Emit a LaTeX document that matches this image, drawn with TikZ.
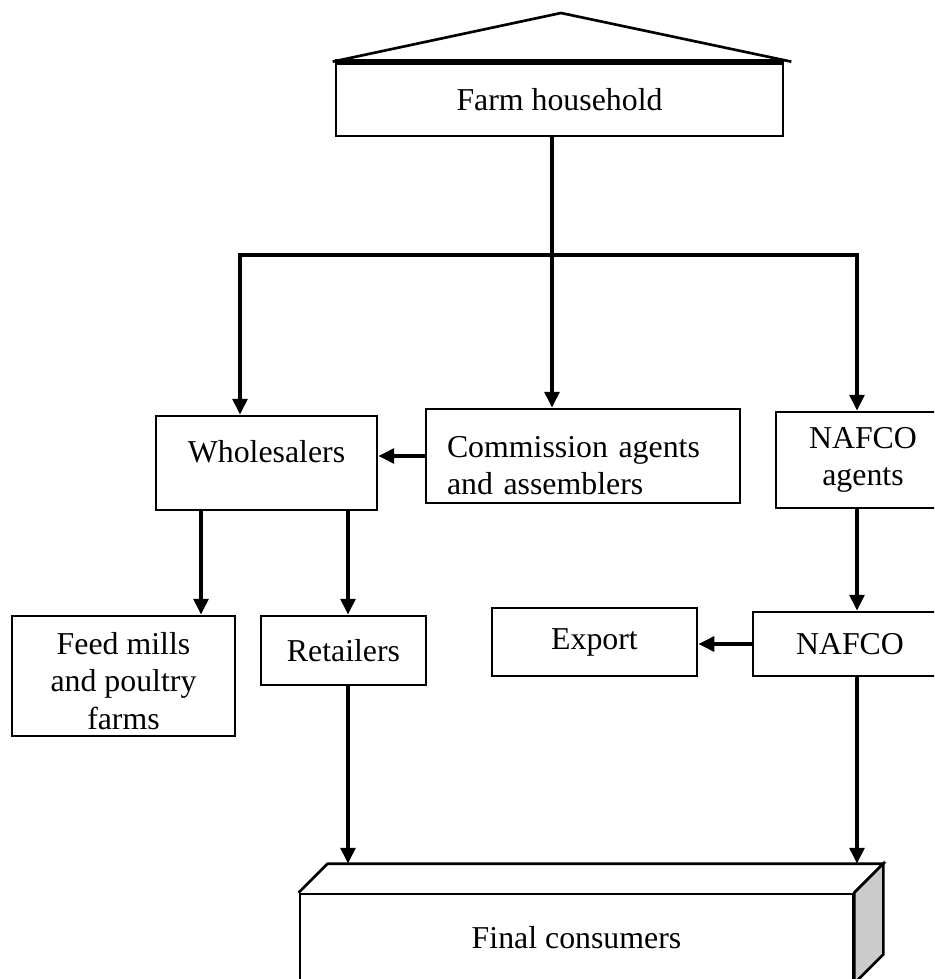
\documentclass[tikz,border=0pt]{standalone}
\usepackage{fontspec}
\setmainfont{Liberation Serif}
\usetikzlibrary{arrows.meta}
\newcommand\pu{0.377pt}
\newcommand\dep{29}

\begin{document}
\begin{tikzpicture}[x=\pu, y=-\pu, >={Triangle[length=6pt,width=5.5pt]},
  box/.style={rectangle, draw, line width=1pt, inner sep=0pt, align=center, font=\fontsize{12}{14}\selectfont},
  link/.style={line width=1.5pt}]
\useasboundingbox (0,0) rectangle (934,979);
\clip (0,0) rectangle (934,979);

\node at (559.5, 99.5) [box, minimum width=447*\pu, minimum height=73*\pu] (farm) {Farm household};

    %roof on top of the household
    \draw [line width=1pt] ([xshift=-2*\pu]farm.north west) -- (561, 13) -- ([xshift=7*\pu]farm.north east);
    \draw [line width=2.2pt] (farm.north west) -- (farm.north east);

    \node at (266.5, 463) [box, minimum width=221*\pu, minimum height=94*\pu, text height=9pt, text depth=9.75pt] (whole) {Wholesalers};
    \node at (583, 456) [box, align=left, text width=272*\pu, inner xsep=21*\pu, minimum height=94*\pu, text depth=7pt] (comm) {Commission agents\\and assemblers};
    \node at (863, 460) [box, minimum width=174*\pu, minimum height=96*\pu] (nagents) {NAFCO\\agents};

    \node at (123.5, 676) [box, minimum width=223*\pu, minimum height=120*\pu, text height=40pt, text depth=0pt] (feed) {Feed mills\\and poultry\\farms};
    \node at (343.5, 650.5) [box, minimum width=165*\pu, minimum height=69*\pu] (retail) {Retailers};
    \node at (594.5, 642) [box, minimum width=205*\pu, minimum height=68*\pu] (export) {Export};
    \node at (850, 644) [box, minimum width=194*\pu, minimum height=64*\pu] (nafco) {NAFCO};

    %Final consumers as a block
    \node at (576.5, 938) [box, minimum width=553*\pu, minimum height=88*\pu] (final) {Final consumers};
    \draw [line width=1pt] (final.north west) -- ++(\dep, -\dep) -- ([shift={(\dep, -\dep)}]final.north east) -- (final.north east);
    \filldraw [fill=black!20, line width=1pt] (final.north east) -- ++(\dep, -\dep) -- ([shift={(\dep, -\dep)}]final.south east) -- (final.south east) -- cycle;

    \coordinate (split) at (552, 255);
    \coordinate (lsplit) at (240, 255);
    \coordinate (rsplit) at (857, 255);
    \coordinate (fx) at (201, 0);
    \coordinate (rx) at (348, 0);
    \coordinate (fback) at ([shift={(0, -\dep)}]final.north);

    %Relations between the actors
    \draw [link] (farm.south -| split) -- (split);
    \draw [link, ->] (split) -| (whole.north -| lsplit);
    \draw [link, ->] (split) -| (nagents.north -| rsplit);
    \draw [link, ->] (split) -- (comm.north -| split);
    \draw [link, ->] (comm.west) -- (comm.west -| whole.east);

    \draw [link, ->] (whole.south -| fx) -- (feed.north -| fx);
    \draw [link, ->] (whole.south -| rx) -- (retail.north -| rx);
    \draw [link, ->] (nagents.south -| rsplit) -- (nafco.north -| rsplit);
    \draw [link, ->] (nafco.west) -- (nafco.west -| export.east);

    \draw [link, ->] (retail.south -| rx) -- (fback -| rx);
    \draw [link, ->] (nafco.south -| rsplit) -- (fback -| rsplit);
\end{tikzpicture}
\end{document}
